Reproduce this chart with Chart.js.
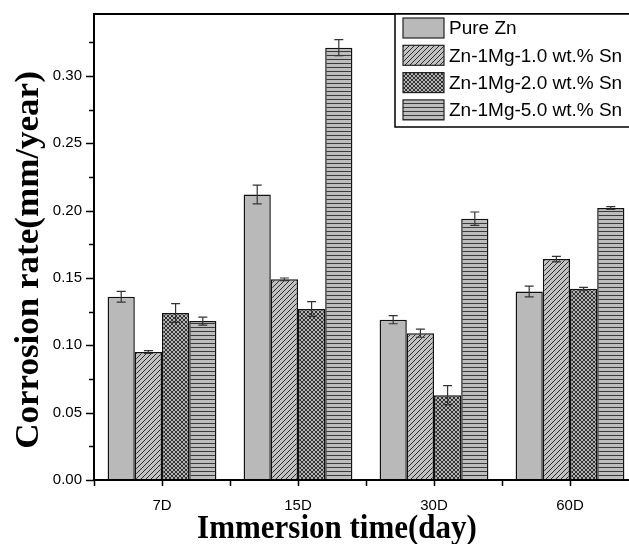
<!DOCTYPE html>
<html lang="en">
<head>
  <meta charset="UTF-8">
  <title>Corrosion rate</title>
  <script src="https://cdn.jsdelivr.net/npm/chart.js"></script>
  <style>
    body { margin: 0; background: #fff; overflow: hidden; }
    #wrap { width: 640px; height: 544px; }
  </style>
</head>
<body>
  <div id="wrap"><canvas id="chart" width="640" height="544"></canvas></div>

  <script>
    // values
    const categories = ['7D', '15D', '30D', '60D'];
    const seriesNames = ['Pure Zn', 'Zn-1Mg-1.0 wt.% Sn', 'Zn-1Mg-2.0 wt.% Sn', 'Zn-1Mg-5.0 wt.% Sn'];
    const pureZn = [0.136, 0.212, 0.119, 0.140];
    const pureZnErr = [0.004, 0.007, 0.003, 0.004];
    const sn10 = [0.095, 0.149, 0.109, 0.164];
    const sn10Err = [0.001, 0.001, 0.003, 0.002];
    const sn20 = [0.124, 0.127, 0.063, 0.142];
    const sn20Err = [0.007, 0.0055, 0.007, 0.001];
    const sn50 = [0.118, 0.321, 0.194, 0.202];
    const sn50Err = [0.003, 0.006, 0.005, 0.001];
    const yTickLabels = [0, 0.05, 0.10, 0.15, 0.20, 0.25, 0.30];

    // fill patterns
    function makePattern(kind) {
      const c = document.createElement('canvas');
      const g = c.getContext('2d');
      if (kind === 'diag') {
        c.width = c.height = 5;
        g.fillStyle = '#c2c2c2'; g.fillRect(0, 0, 5, 5);
        g.strokeStyle = '#2a2a2a'; g.lineWidth = 1;
        g.beginPath();
        g.moveTo(0, 5); g.lineTo(5, 0);
        g.moveTo(-1, 1); g.lineTo(1, -1);
        g.moveTo(4, 6); g.lineTo(6, 4);
        g.stroke();
      } else if (kind === 'cross') {
        c.width = c.height = 4;
        g.fillStyle = '#b4b4b4'; g.fillRect(0, 0, 4, 4);
        g.strokeStyle = '#222'; g.lineWidth = 0.9;
        g.beginPath();
        g.moveTo(0, 0); g.lineTo(4, 4);
        g.moveTo(0, 4); g.lineTo(4, 0);
        g.stroke();
      } else {
        c.width = 4; c.height = 4;
        g.fillStyle = '#bdbdbd'; g.fillRect(0, 0, 4, 4);
        g.fillStyle = '#3a3a3a'; g.fillRect(0, 3, 4, 1);
      }
      return g.createPattern(c, 'repeat');
    }

    const fills = ['#b9b9b9', makePattern('diag'), makePattern('cross'), makePattern('horiz')];
    const values = [pureZn, sn10, sn20, sn50];
    const errors = [pureZnErr, sn10Err, sn20Err, sn50Err];

    const errorBars = {
      id: 'errorBars',
      afterDatasetsDraw(chart) {
        const ctx = chart.ctx, y = chart.scales.y;
        ctx.save();
        ctx.strokeStyle = '#333';
        ctx.lineWidth = 1.2;
        chart.data.datasets.forEach((ds, i) => {
          chart.getDatasetMeta(i).data.forEach((bar, j) => {
            const v = ds.data[j], e = errors[i][j];
            const t = y.getPixelForValue(v + e), b = y.getPixelForValue(v - e);
            ctx.beginPath();
            ctx.moveTo(bar.x, t); ctx.lineTo(bar.x, b);
            ctx.moveTo(bar.x - 4.5, t); ctx.lineTo(bar.x + 4.5, t);
            ctx.moveTo(bar.x - 4.5, b); ctx.lineTo(bar.x + 4.5, b);
            ctx.stroke();
          });
        });
        ctx.restore();
      }
    };

    const frame = {
      id: 'frame',
      afterDraw(chart) {
        const ctx = chart.ctx, a = chart.chartArea;
        const y = chart.scales.y;
        ctx.save();
        ctx.strokeStyle = '#000';
        ctx.lineWidth = 2;
        ctx.strokeRect(a.left, a.top, a.right - a.left, a.bottom - a.top);
        ctx.lineWidth = 1.5;
        ctx.beginPath();
        for (let k = 0; k <= 13; k++) {
          const py = Math.round(y.getPixelForValue(k * 0.025)) + 0.5;
          const len = k % 2 === 0 ? 8 : 5;
          ctx.moveTo(a.left, py); ctx.lineTo(a.left - len, py);
        }
        const step = (a.right - a.left) / categories.length;
        for (let k = 0; k <= categories.length * 2; k++) {
          const px = Math.round(a.left + k * step / 2) + 0.5;
          ctx.moveTo(px, a.bottom); ctx.lineTo(px, a.bottom + 6);
        }
        ctx.stroke();

        // legend box
        ctx.fillStyle = '#fff';
        ctx.fillRect(395, 14, 260, 113);
        ctx.lineWidth = 1.5;
        ctx.strokeRect(395, 14, 260, 113);
        ctx.font = '19px "Liberation Sans", Arial, sans-serif';
        ctx.textBaseline = 'middle';
        seriesNames.forEach((name, i) => {
          const cy = 28 + i * 27.3;
          ctx.fillStyle = fills[i];
          ctx.fillRect(403, cy - 10, 41, 20);
          ctx.lineWidth = 1.2;
          ctx.strokeStyle = '#222';
          ctx.strokeRect(403, cy - 10, 41, 20);
          ctx.fillStyle = '#000';
          ctx.fillText(name, 449, cy + 1);
        });

        // axis titles
        ctx.fillStyle = '#000';
        ctx.textAlign = 'center';
        ctx.textBaseline = 'middle';
        ctx.save();
        ctx.translate(337, 529);
        ctx.scale(1, 1.12);
        ctx.font = 'bold 31px "Liberation Serif", "Times New Roman", serif';
        ctx.fillText('Immersion time(day)', 0, 0);
        ctx.restore();
        ctx.save();
        ctx.translate(29, 260);
        ctx.rotate(-Math.PI / 2);
        ctx.scale(1.03, 1.0);
        ctx.font = 'bold 34px "Liberation Serif", "Times New Roman", serif';
        ctx.fillText('Corrosion rate(mm/year)', 0, 0);
        ctx.restore();
        ctx.restore();
      }
    };

    new Chart(document.getElementById('chart'), {
      type: 'bar',
      data: {
        labels: categories,
        datasets: seriesNames.map((name, i) => ({
          label: name,
          data: values[i],
          backgroundColor: fills[i],
          borderColor: '#111',
          borderWidth: 1.5,
          barPercentage: 1,
          categoryPercentage: 0.8
        }))
      },
      options: {
        responsive: false,
        animation: false,
        layout: { padding: { top: 14, right: 2, left: 0, bottom: 0 } },
        plugins: { legend: { display: false }, tooltip: { enabled: false } },
        scales: {
          x: {
            grid: { display: false, drawTicks: false },
            border: { display: false },
            ticks: { color: '#000', font: { family: '"Liberation Sans", Arial', size: 15 }, padding: 17 },
            afterFit(s) { s.height = 64; s.paddingLeft = 0; s.paddingRight = 0; }
          },
          y: {
            min: 0,
            max: 0.346,
            grid: { display: false, drawTicks: false },
            border: { display: false },
            ticks: { color: '#000', font: { family: '"Liberation Sans", Arial', size: 15 }, padding: 12,
              callback: v => v.toFixed(2) },
            afterBuildTicks(s) { s.ticks = yTickLabels.map(v => ({ value: v })); },
            afterFit(s) { s.width = 94; s.paddingTop = 0; s.paddingBottom = 0; }
          }
        }
      },
      plugins: [errorBars, frame]
    });
  </script>
</body>
</html>
